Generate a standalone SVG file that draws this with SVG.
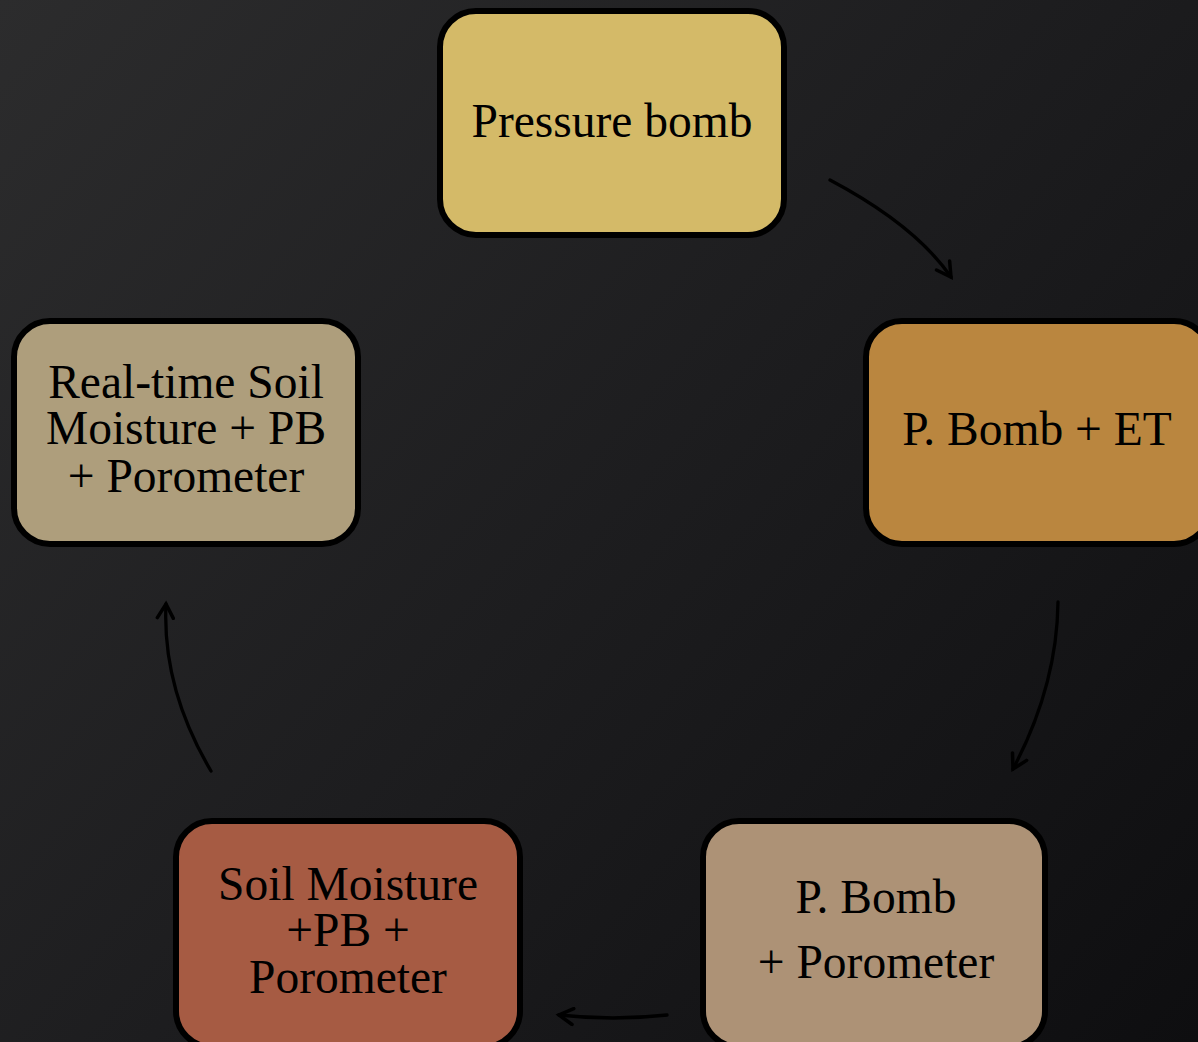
<svg xmlns="http://www.w3.org/2000/svg" width="1198" height="1042" viewBox="0 0 1198 1042">
<defs>
<linearGradient id="bg" gradientUnits="userSpaceOnUse" x1="0" y1="0" x2="1198" y2="1042">
<stop offset="0" stop-color="#2c2c2d"/>
<stop offset="0.5" stop-color="#1d1d1f"/>
<stop offset="1" stop-color="#0e0e10"/>
</linearGradient>
<marker id="arr" viewBox="-16 -10 20 20" refX="0" refY="0" markerWidth="20" markerHeight="20" markerUnits="userSpaceOnUse" orient="auto">
<path d="M-14,-8 L0,0 L-14,8" fill="none" stroke="#000" stroke-width="3.5" stroke-linecap="round" stroke-linejoin="miter"/>
</marker>
<style>
.box{stroke:#000;stroke-width:6}
.lbl{font-family:"Liberation Serif","DejaVu Serif",serif;font-size:47.5px;fill:#000;text-anchor:middle}
.conn{fill:none;stroke:#000;stroke-width:3.3;stroke-linecap:round;marker-end:url(#arr)}
</style>
</defs>
<rect x="0" y="0" width="1198" height="1042" fill="url(#bg)"/>
<g id="connectors">
<path class="conn" d="M830,180 Q915,225 951,277"/>
<path class="conn" d="M1058,602 Q1057,686 1013,769"/>
<path class="conn" d="M667,1015 Q613,1021 559,1015"/>
<path class="conn" d="M211,771 Q162,688 166,604"/>
</g>
<g id="pressure-bomb">
<rect class="box" x="440" y="11" width="344" height="224" rx="36" fill="#d4ba68"/>
<text class="lbl" x="612" y="137">Pressure bomb</text>
</g>
<g id="pbomb-et">
<rect class="box" x="866" y="321" width="344" height="223" rx="36" fill="#ba863f"/>
<text class="lbl" x="1037" y="445">P. Bomb + ET</text>
</g>
<g id="pbomb-porometer">
<rect class="box" x="703" y="821" width="342" height="226" rx="36" fill="#ad9276"/>
<text class="lbl" x="876" y="913">P. Bomb</text>
<text class="lbl" x="876" y="978">+ Porometer</text>
</g>
<g id="soil-moisture">
<rect class="box" x="176" y="821" width="344" height="226" rx="36" fill="#a65b43"/>
<text class="lbl" x="348" y="900">Soil Moisture</text>
<text class="lbl" x="348" y="946">+PB +</text>
<text class="lbl" x="348" y="993">Porometer</text>
</g>
<g id="realtime-soil">
<rect class="box" x="14" y="321" width="344" height="223" rx="36" fill="#ae9e7c"/>
<text class="lbl" x="186" y="398">Real-time Soil</text>
<text class="lbl" x="186" y="444">Moisture + PB</text>
<text class="lbl" x="186" y="492">+ Porometer</text>
</g>
</svg>
